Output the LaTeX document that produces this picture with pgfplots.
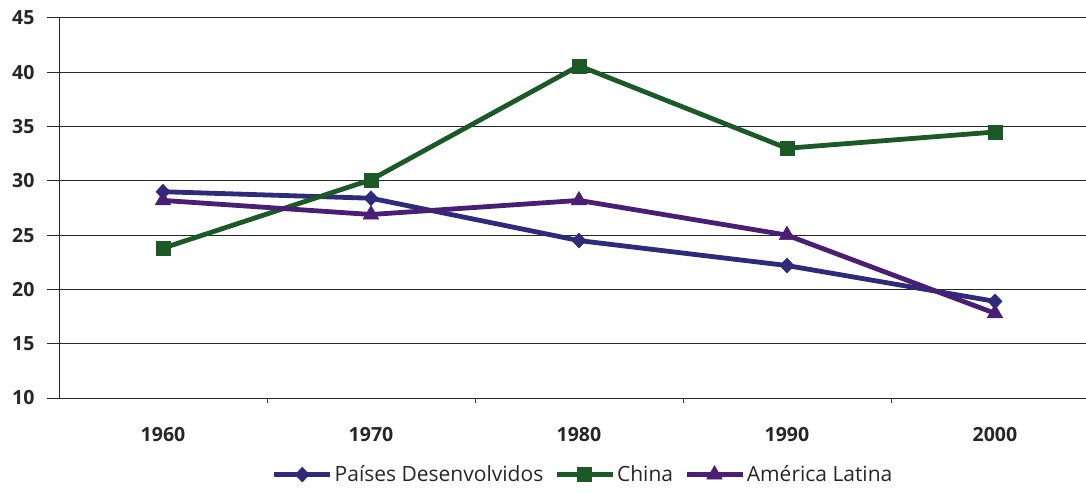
\documentclass[border=0pt]{standalone}
\usepackage{pgfplots}
\pgfplotsset{compat=1.18}
\usepackage{fontspec}
\setmainfont{Open Sans}
\definecolor{cA}{HTML}{2E2A7C}
\definecolor{cB}{HTML}{1B5A26}
\definecolor{cC}{HTML}{4A1F73}
\begin{document}
\begin{tikzpicture}
\useasboundingbox (0,0) rectangle (1086pt,493pt);
\clip (0,0) rectangle (1086pt,493pt);
\begin{axis}[
  at={(59pt,95pt)}, anchor=south west,
  width=1040pt, height=380pt, scale only axis,
  xmin=-0.5, xmax=4.5, ymin=10, ymax=45,
  xtick={0,1,2,3,4}, xticklabels={1960,1970,1980,1990,2000},
  x tick style={draw=none},
  extra x ticks={0.5,1.5,2.5,3.5}, extra x tick labels={},
  extra x tick style={x tick style={draw=black!80, line width=0.8pt}, major tick length=5pt, grid=none},
  ytick={10,15,...,45},
  ymajorgrids, grid style={black!85, line width=1pt},
  axis x line*=bottom, axis y line*=left,
  axis line style={black!85, line width=1pt},
  tick align=outside,
  y tick style={black!85, line width=1pt}, major tick length=12pt,
  /pgf/number format/assume math mode=true,
  tick label style={font=\bfseries\fontsize{19.5}{19.5}\selectfont, text=black!85},
  xticklabel style={yshift=-14pt},
  yticklabel style={xshift=-9pt},
  legend style={at={(0.504,-0.17)}, anchor=north, draw=none, fill=none, legend columns=-1,
    font=\fontsize{21}{21}\selectfont, text=black!85, inner sep=1pt,
    /tikz/every even column/.append style={column sep=9pt}},
  legend image code/.code={\draw[mark repeat=2,mark phase=2] plot coordinates {(0pt,0pt) (28pt,0pt) (56pt,0pt)};},
  every axis plot/.append style={line width=4.8pt},
]
\addplot[color=cA, mark=diamond*, mark size=7.5pt, mark options={line width=0.5pt, xscale=1.25}] coordinates {(0,29.0) (1,28.4) (2,24.5) (3,22.2) (4,18.9)};
\addlegendentry{Países Desenvolvidos}
\addplot[color=cB, mark=square*, mark size=7pt, mark options={line width=0.5pt}] coordinates {(0,23.8) (1,30.1) (2,40.6) (3,33.0) (4,34.5)};
\addlegendentry{China}
\addplot[color=cC, mark=triangle*, mark size=9pt, mark options={line width=0.5pt}] coordinates {(0,28.2) (1,26.9) (2,28.2) (3,25.0) (4,17.8)};
\addlegendentry{América Latina}
\end{axis}
\end{tikzpicture}
\end{document}
